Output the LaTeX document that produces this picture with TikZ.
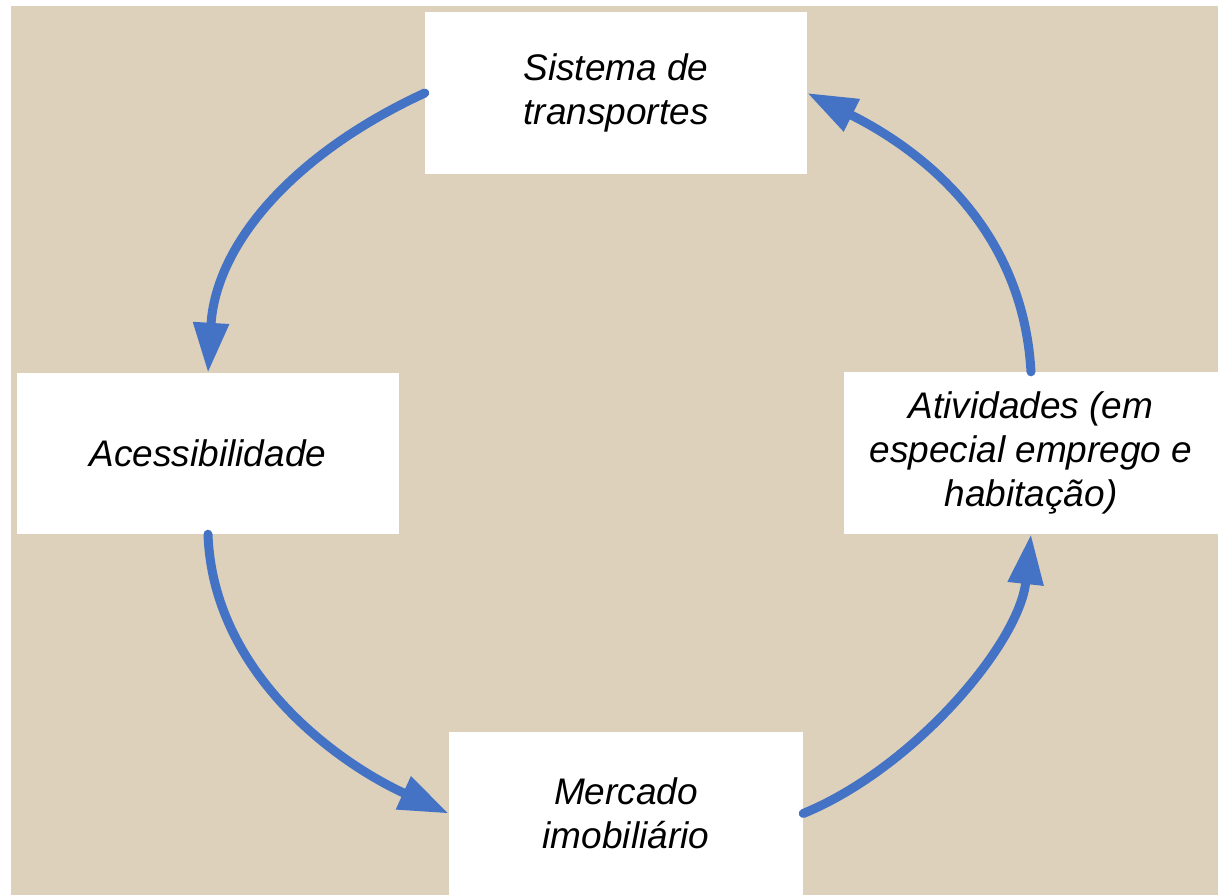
\documentclass[tikz,border=0pt]{standalone}
\usepackage{fontspec}
\setmainfont{Liberation Sans}
\usepackage{tikz}
\usetikzlibrary{arrows.meta,positioning}
\definecolor{linen}{RGB}{221,209,188}
\definecolor{cycleblue}{RGB}{68,114,196}

\begin{document}
\begin{tikzpicture}[
    x=1pt, y=-1pt,
    box/.style={rectangle, fill=white, inner sep=0pt, align=center, text=black,
        font=\fontsize{37}{44}\selectfont\itshape},
    arrow/.style={-{Triangle[length=50pt,width=34pt]}, draw=cycleblue, line width=9pt, line cap=round}
]
    \useasboundingbox (0,0) rectangle (1218,895);
    \fill[linen] (11,6) rectangle (1218,895);

    \node[box, minimum width=382pt, minimum height=162pt] (sistema) at (616,93) {Sistema de\\transportes};
    \node[box, minimum width=382pt, minimum height=161pt] (acess) at (208,453.5) {Acessibilidade};
    \node[box, minimum width=374pt, minimum height=162pt] (ativ) at (1031,453) {Atividades (em\\especial emprego e\\habitação)};
    \node[box, minimum width=354pt, minimum height=163pt] (mercado) at (626,813.5) {Mercado\\imobiliário};

    \draw[arrow] (sistema.west) .. controls +(-130,60) and +(8,-130) .. (acess.north);
    \draw[arrow] (acess.south) .. controls +(5,140) and +(-110,-50) .. (mercado.west);
    \draw[arrow] (mercado.east) .. controls +(110,-45) and +(-12,110) .. (ativ.south);
    \draw[arrow] (ativ.north) .. controls +(-8,-140) and +(120,60) .. (sistema.east);
\end{tikzpicture}
\end{document}
